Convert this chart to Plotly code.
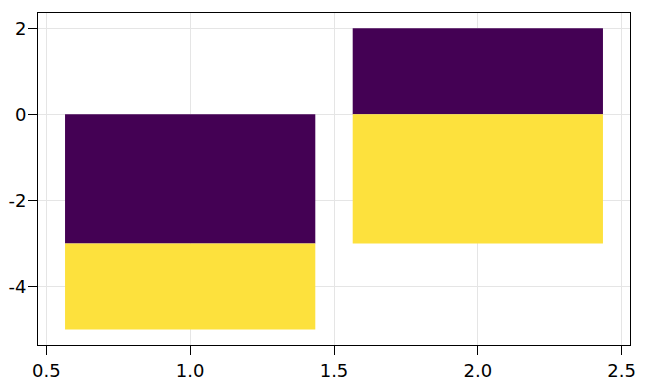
import plotly.graph_objects as go

categories = [1, 2]
series_a = [-3, 2]
series_b = [-2, -3]
colors = ["#440154", "#FDE13D"]

fig = go.Figure()
for vals, c in zip([series_a, series_b], colors):
    fig.add_trace(go.Bar(x=categories, y=vals, width=0.87, marker=dict(color=c, line=dict(width=0)), showlegend=False))

fig.update_layout(
    barmode="relative",
    width=634, height=374,
    margin=dict(l=30, r=12, t=5, b=37),
    plot_bgcolor="white", paper_bgcolor="white",
    font=dict(family="DejaVu Sans", size=18, color="black"),
)
axis_common = dict(showline=True, linecolor="black", linewidth=1, mirror=True,
                   showgrid=True, gridcolor="#e5e5e5", gridwidth=1, automargin=False,
                   ticks="outside", ticklen=9, tickcolor="black", zeroline=False)
fig.update_xaxes(range=[0.471, 2.529], tickvals=[0.5, 1.0, 1.5, 2.0, 2.5], ticktext=["0.5", "1.0", "1.5", "2.0", "2.5"], **axis_common)
fig.update_yaxes(range=[-5.36, 2.355], tickvals=[-4, -2, 0, 2], ticktext=["-4", "-2", "0", "2"], ticklabelstandoff=-2, **axis_common)

fig.write_html("out.html")
